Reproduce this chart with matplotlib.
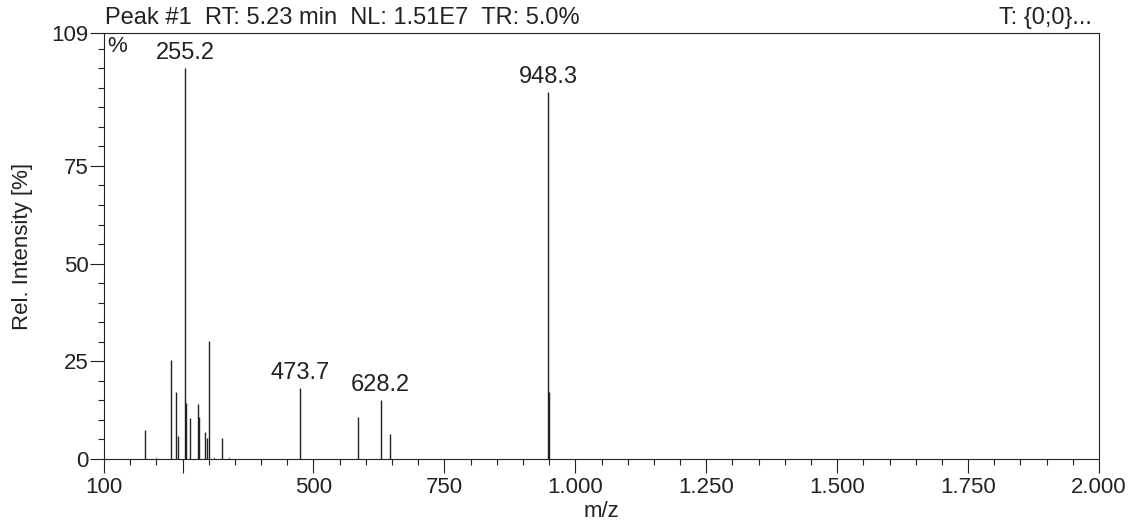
import matplotlib
matplotlib.use('Agg')
import matplotlib.pyplot as plt
import numpy as np

# peaks (m/z, relative intensity %)
mz = [178.9, 227.3, 236.9, 240.7, 255.2, 256.2, 264.8, 278.8, 280.8, 292.2,
      296.6, 300.5, 324.7, 473.7, 585.6, 628.2, 645.4, 948.3, 949.3]
intensity = [7.4, 25.3, 17.2, 6.0, 100.0, 14.3, 10.4, 14.1, 10.7, 7.0,
             5.4, 30.3, 5.3, 18.1, 10.7, 15.1, 6.3, 93.9, 17.2]
# tiny noise peaks near the baseline
noise_mz = [198.7, 310.6, 338.8]
noise_int = [0.6, 0.6, 0.6]

labelled = [255.2, 473.7, 628.2, 948.3]

x_major = [100, 250, 500, 750, 1000, 1250, 1500, 1750, 2000]
x_labels = ['100', '', '500', '750', '1.000', '1.250', '1.500', '1.750', '2.000']
y_major = [0, 25, 50, 75, 109]

title_left = 'Peak #1  RT: 5.23 min  NL: 1.51E7  TR: 5.0%'
title_right = 'T: {0;0}...'

plt.rcParams['font.family'] = ['Liberation Sans', 'DejaVu Sans']
ink = '#222222'

fig = plt.figure(figsize=(11.3, 5.26), dpi=100)
ax = fig.add_axes([104 / 1130, 1 - 459 / 526, 995 / 1130, 426 / 526])

ax.vlines(mz, 0, intensity, colors=ink, lw=1.0)
ax.vlines(noise_mz, 0, noise_int, colors='#c070c0', lw=1.0)

for m, h in zip(mz, intensity):
    if m in labelled:
        ax.annotate(f'{m:.1f}', (m, h), xytext=(0, 3), textcoords='offset points',
                    ha='center', va='bottom', fontsize=17, color=ink)

ax.set_xlim(100, 2000)
ax.set_ylim(0, 109)
ax.set_xticks(x_major)
ax.set_xticklabels(x_labels)
ax.set_xticks([v for v in range(150, 2000, 50) if v not in x_major], minor=True)
ax.set_yticks(y_major)
ax.set_yticks([v for v in range(5, 109, 5) if v not in y_major], minor=True)

ax.tick_params(axis='both', which='major', direction='out', length=10, width=0.8,
               color=ink, labelcolor=ink, labelsize=16, pad=1)
ax.tick_params(axis='both', which='minor', direction='out', length=4, width=0.8, color=ink)
ax.tick_params(axis='x', which='major', pad=3)

for s in ax.spines.values():
    s.set_linewidth(0.8)
    s.set_color(ink)

ax.set_xlabel('m/z', fontsize=16, color=ink, labelpad=2)
ax.set_ylabel('Rel. Intensity [%]', fontsize=16, color=ink)
ax.yaxis.set_label_coords(-0.071, 0.5)

ax.annotate(title_left, (0, 1), xycoords='axes fraction', xytext=(1, 3),
            textcoords='offset points', ha='left', va='bottom', fontsize=17, color=ink)
ax.annotate(title_right, (1, 1), xycoords='axes fraction', xytext=(-5, 3),
            textcoords='offset points', ha='right', va='bottom', fontsize=17, color=ink)
ax.annotate('%', (0, 1), xycoords='axes fraction', xytext=(2, -2),
            textcoords='offset points', ha='left', va='top', fontsize=16, color=ink)

fig.savefig('out.png', dpi=100)
